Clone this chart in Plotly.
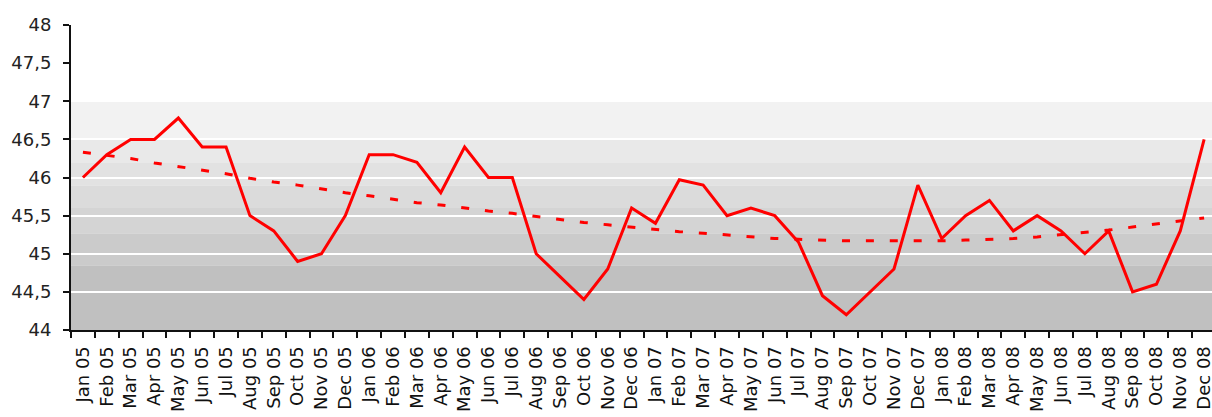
import plotly.graph_objects as go

# Monthly index values, Jan 2005 - Dec 2008
months = [
    "Jan 05", "Feb 05", "Mar 05", "Apr 05", "May 05", "Jun 05", "Jul 05", "Aug 05", "Sep 05", "Oct 05", "Nov 05", "Dec 05",
    "Jan 06", "Feb 06", "Mar 06", "Apr 06", "May 06", "Jun 06", "Jul 06", "Aug 06", "Sep 06", "Oct 06", "Nov 06", "Dec 06",
    "Jan 07", "Feb 07", "Mar 07", "Apr 07", "May 07", "Jun 07", "Jul 07", "Aug 07", "Sep 07", "Oct 07", "Nov 07", "Dec 07",
    "Jan 08", "Feb 08", "Mar 08", "Apr 08", "May 08", "Jun 08", "Jul 08", "Aug 08", "Sep 08", "Oct 08", "Nov 08", "Dec 08",
]
values = [
    46.0, 46.3, 46.5, 46.5, 46.78, 46.4, 46.4, 45.5, 45.3, 44.9, 45.0, 45.5,
    46.3, 46.3, 46.2, 45.8, 46.4, 46.0, 46.0, 45.0, 44.7, 44.4, 44.8, 45.6,
    45.4, 45.97, 45.9, 45.5, 45.6, 45.5, 45.15, 44.45, 44.2, 44.5, 44.8, 45.9,
    45.2, 45.5, 45.7, 45.3, 45.5, 45.3, 45.0, 45.3, 44.5, 44.6, 45.3, 46.5,
]
# Trend line values (dashed)
trend = [
    46.33, 46.29, 46.25, 46.19, 46.14, 46.10, 46.05, 45.99, 45.94, 45.90, 45.85, 45.80,
    45.76, 45.71, 45.67, 45.64, 45.60, 45.56, 45.53, 45.49, 45.45, 45.41, 45.38, 45.35,
    45.32, 45.29, 45.27, 45.25, 45.22, 45.20, 45.19, 45.18, 45.17, 45.17, 45.17, 45.17,
    45.17, 45.18, 45.19, 45.20, 45.22, 45.25, 45.28, 45.31, 45.35, 45.39, 45.43, 45.47,
]

y_ticks = [44, 44.5, 45, 45.5, 46, 46.5, 47, 47.5, 48]
y_tick_labels = ["44", "44,5", "45", "45,5", "46", "46,5", "47", "47,5", "48"]

# Stepped grey background bands (value ranges and fills)
band_edges = [44.0, 44.85, 45.27, 45.6, 45.9, 46.2, 46.5, 47.0]
band_colors = ["#c0c0c0", "#cbcbcb", "#d4d4d4", "#dbdbdb", "#e2e2e2", "#e9e9e9", "#f2f2f2"]

fig = go.Figure()
fig.add_trace(go.Scatter(
    x=months, y=values, mode="lines",
    line=dict(color="#ff0000", width=3),
    hoverinfo="x+y",
))
fig.add_trace(go.Scatter(
    x=months, y=trend, mode="lines",
    line=dict(color="#ff0000", width=3, dash="8px,15.9px"),
    hoverinfo="skip",
))

shapes = []
for lo, hi, col in zip(band_edges[:-1], band_edges[1:], band_colors):
    shapes.append(dict(type="rect", xref="paper", yref="y", x0=0, x1=1, y0=lo, y1=hi,
                       fillcolor=col, line=dict(width=0), layer="below"))

font_main = "DejaVu Sans, Verdana, sans-serif"
n = len(months)
fig.update_layout(
    width=1212, height=417,
    margin=dict(l=71, r=0, t=25, b=87, autoexpand=False),
    paper_bgcolor="white", plot_bgcolor="white",
    showlegend=False,
    shapes=shapes,
    xaxis=dict(
        type="category",
        range=[-0.5, n - 0.5 - 0.17],
        tickmode="array", tickvals=months, ticktext=months,
        tickson="boundaries",
        ticks="outside", ticklen=6, tickwidth=2, tickcolor="#111",
        tickangle=-90,
        ticklabelstandoff=7,
        tickfont=dict(family=font_main, size=18, color="#111"),
        showline=True, linecolor="#111", linewidth=2,
        showgrid=False, zeroline=False, automargin=False,
    ),
    yaxis=dict(
        range=[44, 48],
        tickvals=y_ticks, ticktext=y_tick_labels,
        ticks="outside", ticklen=6, tickwidth=2, tickcolor="#111",
        ticklabelstandoff=8,
        tickfont=dict(family=font_main, size=18, color="#222"),
        showline=True, linecolor="#111", linewidth=2,
        showgrid=True, gridcolor="white", gridwidth=2,
        zeroline=False, automargin=False,
    ),
)

fig.write_html("out.html")
